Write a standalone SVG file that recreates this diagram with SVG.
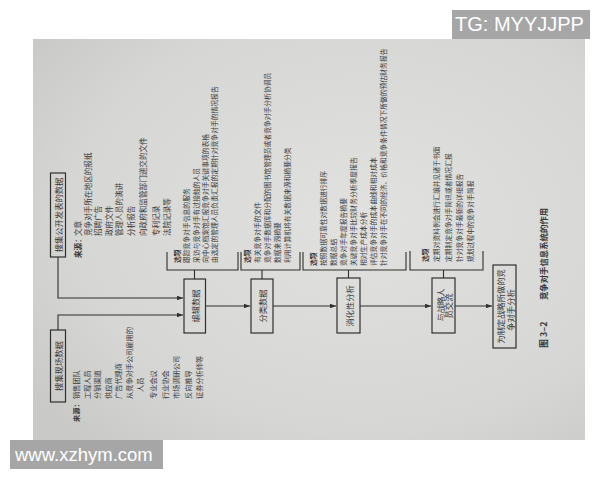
<svg xmlns="http://www.w3.org/2000/svg" width="600" height="480" viewBox="0 0 600 480">
<defs>
<style>
.t{font-family:"Noto Sans CJK SC","Noto Sans",sans-serif;fill:#3a3a3a;dominant-baseline:central}
.o{font-size:6.8px}
.s{font-size:7.6px}
.f{font-size:7.2px}
.k{font-size:8.3px}
.b{font-weight:bold}
.m{text-anchor:middle}
.bx{fill:none;stroke:#2f2f2f;stroke-width:1.2}
.ln{fill:none;stroke:#2f2f2f;stroke-width:1.1}
.wm{font-family:"Liberation Sans",Arial,sans-serif;fill:#ffffff}
</style>
<marker id="ah" viewBox="0 0 8 6" refX="8" refY="3" markerWidth="6" markerHeight="4.5" markerUnits="userSpaceOnUse" orient="auto">
<path d="M0,0 L8,3 L0,6 Z" fill="#2f2f2f"/>
</marker>
<radialGradient id="pg" cx="0.6" cy="0.45" r="0.75">
<stop offset="0" stop-color="#e1e1df"/>
<stop offset="0.7" stop-color="#d6d6d4"/>
<stop offset="1" stop-color="#c9c9c7"/>
</radialGradient>
</defs>
<rect x="0" y="0" width="600" height="480" fill="#ffffff"/>
<rect x="33" y="39" width="552" height="401" fill="url(#pg)"/>

<g id="connectors">
<path class="ln" d="M58,257 V298 H183" marker-end="url(#ah)"/>
<path class="ln" d="M58,330 V315 H183" marker-end="url(#ah)"/>
<path class="ln" d="M205.5,306 H250" marker-end="url(#ah)"/>
<path class="ln" d="M273,306 H336" marker-end="url(#ah)"/>
<path class="ln" d="M360,306 H431" marker-end="url(#ah)"/>
<path class="ln" d="M455,306 H492" marker-end="url(#ah)"/>
<path class="ln" d="M194.5,279 V270"/>
<path class="ln" d="M262,279 V270"/>
<path class="ln" d="M348.5,278 V270"/>
<path class="ln" d="M443.5,278 V270"/>
<path class="ln" d="M167,252 V270 H238 V252"/>
<path class="ln" d="M241,252 V270 H300 V252"/>
<path class="ln" d="M303,252 V270 H406 V252"/>
<path class="ln" d="M410,251 V270 H483 V251"/>
</g>

<g id="src-published">
<rect class="bx" x="50.5" y="173" width="15" height="84"/>
<text class="t k m" transform="translate(58,215) rotate(-90)">搜集公开发表的数据</text>
</g>
<g id="src-published-list">
<text class="t s b" transform="translate(77,258) rotate(-90)">来源：</text>
<text class="t s" transform="translate(77,236) rotate(-90)">文章</text>
<text class="t s" transform="translate(87,236) rotate(-90)">竞争对手所在地区的报纸</text>
<text class="t s" transform="translate(97.5,236) rotate(-90)">招聘广告</text>
<text class="t s" transform="translate(108,236) rotate(-90)">政府文件</text>
<text class="t s" transform="translate(118.5,236) rotate(-90)">管理人员的演讲</text>
<text class="t s" transform="translate(130,236) rotate(-90)">分析报告</text>
<text class="t s" transform="translate(142,236) rotate(-90)">向政府和监管部门递交的文件</text>
<text class="t s" transform="translate(155,236) rotate(-90)">专利记录</text>
<text class="t s" transform="translate(166,236) rotate(-90)">法院记录等</text>
</g>

<g id="src-field">
<rect class="bx" x="50.5" y="330" width="15" height="72"/>
<text class="t k m" transform="translate(58,366) rotate(-90)">搜集现场数据</text>
</g>
<g id="src-field-list">
<text class="t f b" transform="translate(76,422) rotate(-90)">来源：</text>
<text class="t f" transform="translate(76,399) rotate(-90)">销售团队</text>
<text class="t f" transform="translate(86.5,399) rotate(-90)">工程人员</text>
<text class="t f" transform="translate(97,399) rotate(-90)">分销渠道</text>
<text class="t f" transform="translate(107.5,399) rotate(-90)">供应商</text>
<text class="t f" transform="translate(118,399) rotate(-90)">广告代理商</text>
<text class="t f" transform="translate(128.5,399) rotate(-90)">从竞争对手公司雇用的</text>
<text class="t f" transform="translate(140,392) rotate(-90)">人员</text>
<text class="t f" transform="translate(152.5,399) rotate(-90)">专业会议</text>
<text class="t f" transform="translate(164.5,399) rotate(-90)">行业协会</text>
<text class="t f" transform="translate(176,399) rotate(-90)">市场调研公司</text>
<text class="t f" transform="translate(187.5,399) rotate(-90)">反向推导</text>
<text class="t f" transform="translate(199,399) rotate(-90)">证券分析师等</text>
</g>

<g id="compile">
<rect class="bx" x="184" y="279" width="21.5" height="54"/>
<text class="t k m" transform="translate(194.8,306) rotate(-90)">编辑数据</text>
</g>
<g id="compile-options">
<text class="t o b" transform="translate(177,263) rotate(-90)">选项</text>
<text class="t o" transform="translate(186,263) rotate(-90)">跟踪竞争对手信息的服务</text>
<text class="t o" transform="translate(195.5,263) rotate(-90)">采访与竞争对手有过接触的人员</text>
<text class="t o" transform="translate(204.5,263) rotate(-90)">向中心档案馆汇报竞争对手关键事项的表格</text>
<text class="t o" transform="translate(214,263) rotate(-90)">由选定的管理人员负责汇报的定期针对竞争对手的情况报告</text>
</g>

<g id="catalog">
<rect class="bx" x="251" y="279" width="22" height="54"/>
<text class="t k m" transform="translate(262,306) rotate(-90)">分类数据</text>
</g>
<g id="catalog-options">
<text class="t o b" transform="translate(247,263) rotate(-90)">选项</text>
<text class="t o" transform="translate(256.5,263) rotate(-90)">有关竞争对手的文件</text>
<text class="t o" transform="translate(266.5,263) rotate(-90)">竞争对手数据库和分配的图书馆管理员或者竞争对手分析协调员</text>
<text class="t o" transform="translate(277,263) rotate(-90)">数据来源摘要</text>
<text class="t o" transform="translate(287,263) rotate(-90)">利用计算机将有关数据来源和摘要分类</text>
</g>

<g id="digest">
<rect class="bx" x="337" y="278" width="23" height="55"/>
<text class="t k m" transform="translate(348.5,306) rotate(-90)">消化性分析</text>
</g>
<g id="digest-options">
<text class="t o b" transform="translate(313,266) rotate(-90)">选项</text>
<text class="t o" transform="translate(323,266) rotate(-90)">按照数据可靠性对数据进行排序</text>
<text class="t o" transform="translate(333,266) rotate(-90)">数据总结</text>
<text class="t o" transform="translate(343,266) rotate(-90)">竞争对手年度报告摘要</text>
<text class="t o" transform="translate(353,266) rotate(-90)">关键竞争对手比较财务分析季度报告</text>
<text class="t o" transform="translate(363,266) rotate(-90)">相对生产成本分析</text>
<text class="t o" transform="translate(373,266) rotate(-90)">评估竞争对手的成本曲线和相对成本</text>
<text class="t o" transform="translate(383,266) rotate(-90)">针对竞争对手在不同的经济、价格和竞争条件情况下所做的预估财务报告</text>
</g>

<g id="communicate">
<rect class="bx" x="432" y="278" width="23" height="55"/>
<text class="t k m" transform="translate(439.5,305) rotate(-90)">与战略人</text>
<text class="t k m" transform="translate(448,306) rotate(-90)">员交流</text>
</g>
<g id="communicate-options">
<text class="t o b" transform="translate(425,262) rotate(-90)">选项</text>
<text class="t o" transform="translate(436,262) rotate(-90)">定期对资料例会进行汇编并见诸于书面</text>
<text class="t o" transform="translate(448,262) rotate(-90)">定期制定竞争对手简讯或者情况汇报</text>
<text class="t o" transform="translate(459,262) rotate(-90)">针对竞争对手最新的详细报告</text>
<text class="t o" transform="translate(470,262) rotate(-90)">规划过程中的竞争对手简报</text>
</g>

<g id="strategy">
<rect class="bx" x="493" y="265" width="23" height="83"/>
<text class="t k m" transform="translate(500,306.5) rotate(-90)">为制定战略所做的竞</text>
<text class="t k m" transform="translate(510,310) rotate(-90)">争对手分析</text>
</g>

<g id="caption">
<text class="t b" style="font-size:9px" transform="translate(543,348) rotate(-90)">图 3–2</text>
<text class="t b" style="font-size:8.4px" transform="translate(543,300) rotate(-90)">竞争对手信息系统的作用</text>
</g>

<g id="watermarks">
<rect x="452" y="10" width="138" height="29" fill="#a6a6a6"/>
<text class="wm" x="455" y="31" style="font-size:20px">TG: MYYJJPP</text>
<rect x="10" y="440" width="153" height="29" fill="#a6a6a6"/>
<text class="wm" x="15" y="461" style="font-size:18.5px">www.xzhym.com</text>
</g>
</svg>
